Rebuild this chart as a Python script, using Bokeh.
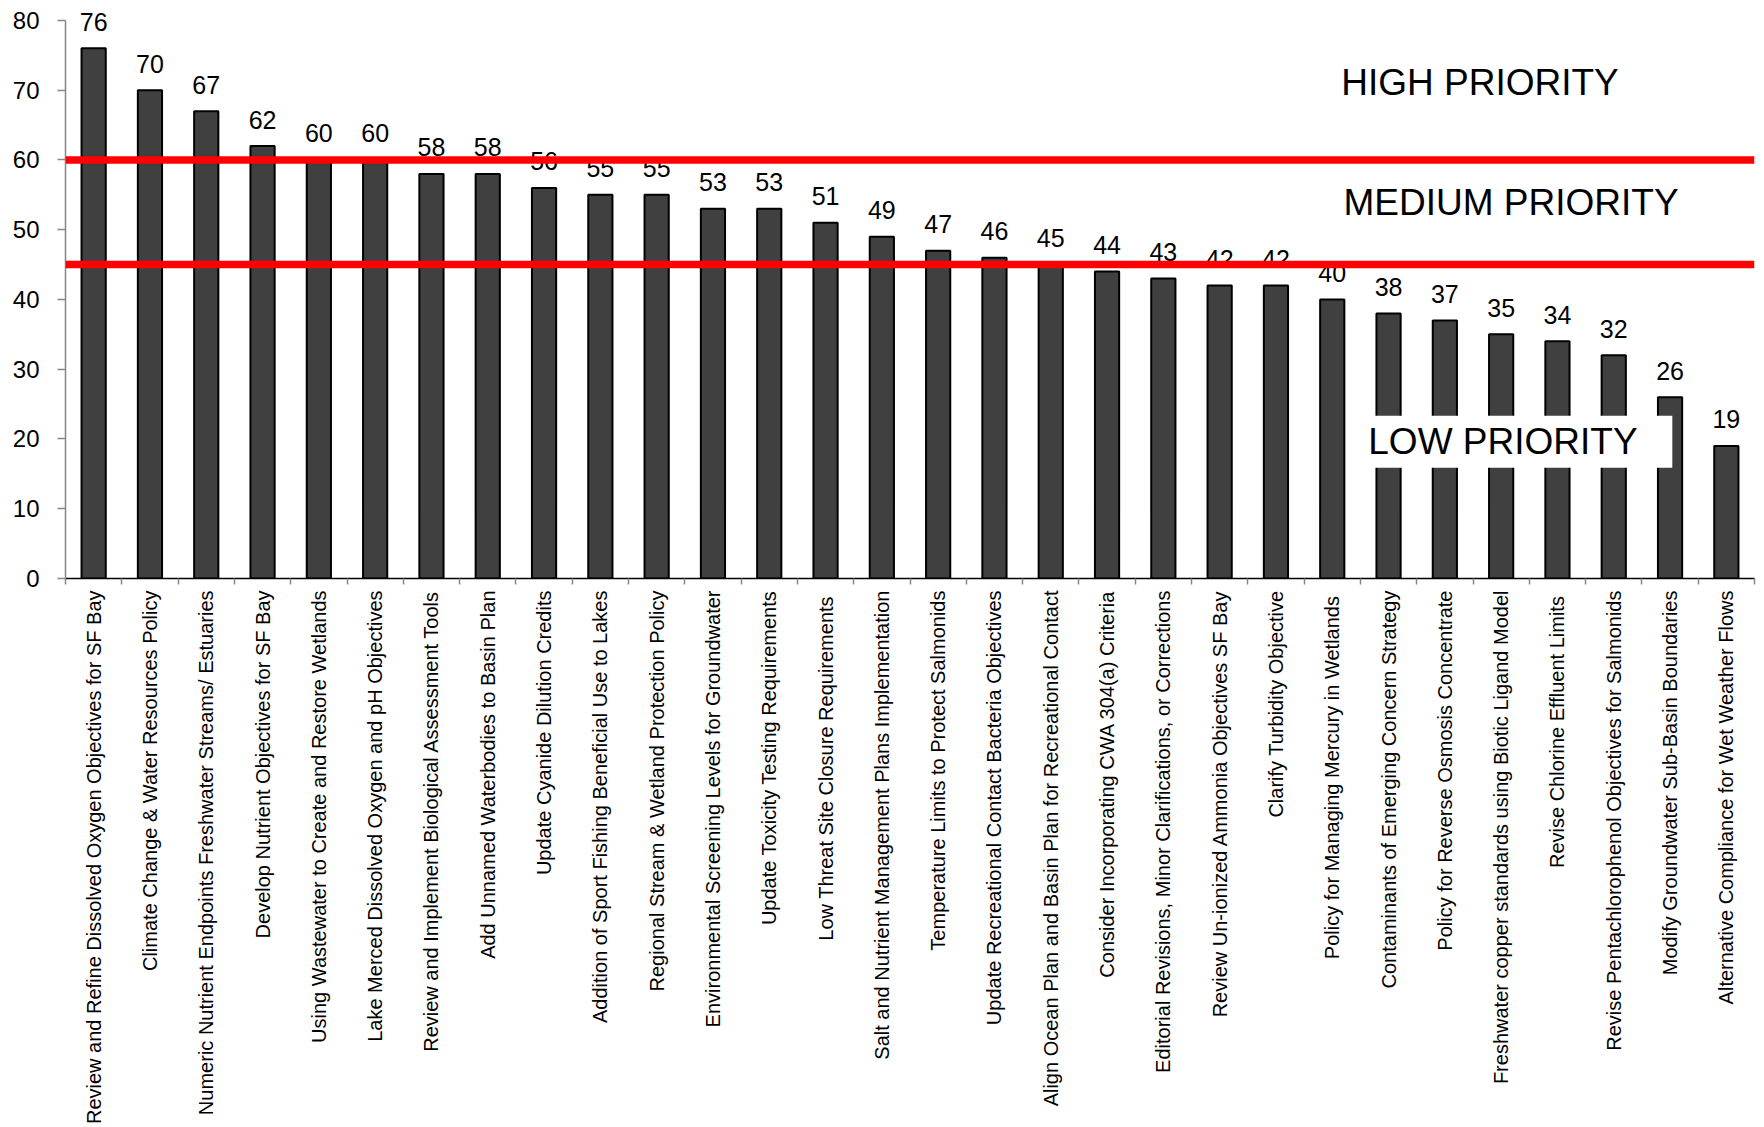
import numpy as np
from bokeh.plotting import figure
from bokeh.models import (Range1d, FixedTicker, CustomJSTickFormatter, Span,
                          Label, BoxAnnotation, ColumnDataSource)
from bokeh.core.properties import value
from bokeh.embed import file_html
from bokeh.resources import INLINE

categories = [
    "Review and Refine Dissolved Oxygen Objectives for SF Bay",
    "Climate Change & Water Resources Policy",
    "Numeric Nutrient Endpoints Freshwater Streams/ Estuaries",
    "Develop Nutrient Objectives for SF Bay",
    "Using Wastewater to Create and Restore Wetlands",
    "Lake Merced Dissolved Oxygen and pH Objectives",
    "Review and Implement Biological Assessment Tools",
    "Add Unnamed Waterbodies to Basin Plan",
    "Update Cyanide Dilution Credits",
    "Addition of Sport Fishing Beneficial Use to Lakes",
    "Regional Stream & Wetland Protection Policy",
    "Environmental Screening Levels for Groundwater",
    "Update Toxicity Testing Requirements",
    "Low Threat  Site Closure Requirements",
    "Salt and Nutrient Management Plans Implementation",
    "Temperature Limits to Protect Salmonids",
    "Update Recreational Contact Bacteria Objectives",
    "Align Ocean Plan and Basin Plan for Recreational Contact",
    "Consider Incorporating CWA 304(a) Criteria",
    "Editorial Revisions, Minor Clarifications, or Corrections",
    "Review Un-ionized Ammonia Objectives SF Bay",
    "Clarify Turbidity Objective",
    "Policy for Managing Mercury in  Wetlands",
    "Contaminants of Emerging Concern Strategy",
    "Policy for Reverse Osmosis Concentrate",
    "Freshwater copper standards using Biotic Ligand Model",
    "Revise Chlorine  Effluent Limits",
    "Revise Pentachlorophenol Objectives for Salmonids",
    "Modify Groundwater Sub-Basin Boundaries",
    "Alternative Compliance for Wet Weather Flows",
]
scores = [76, 70, 67, 62, 60, 60, 58, 58, 56, 55, 55, 53, 53, 51, 49, 47, 46,
          45, 44, 43, 42, 42, 40, 38, 37, 35, 34, 32, 26, 19]
y_ticks = [0, 10, 20, 30, 40, 50, 60, 70, 80]
thresholds = [60, 45]
priority_labels = ["HIGH PRIORITY", "MEDIUM PRIORITY", "LOW PRIORITY"]

FONT = "Liberation Sans"
n = len(categories)
centers = np.arange(n) + 0.5

# frame extends above the 80 tick so the top value label is not clipped
Y_MAX = 80
PX_PER_UNIT = 559 / Y_MAX
TOP_PAD = 20
y_end = Y_MAX + TOP_PAD / PX_PER_UNIT

src = ColumnDataSource(dict(x=centers, top=scores, label=[str(v) for v in scores]))

p = figure(width=1764, height=1127, output_backend="svg", toolbar_location=None,
           x_range=Range1d(0, n), y_range=Range1d(0, y_end),
           min_border_left=65, min_border_right=10, min_border_top=0,
           min_border_bottom=548)
p.outline_line_color = None
p.xgrid.visible = False
p.ygrid.visible = False
p.background_fill_color = "white"
p.border_fill_color = "white"

p.vbar(x="x", top="top", width=0.43, bottom=0, source=src,
       fill_color="#404040", line_color="black", line_width=2)

p.text(x="x", y="top", text="label", source=src, text_align="center",
       text_baseline="middle", y_offset=-26.5, text_font=value(FONT),
       text_font_size="25px", text_color="black")

# y axis
ya = p.yaxis[0]
ya.ticker = FixedTicker(ticks=y_ticks)
ya.bounds = (0, Y_MAX)
ya.minor_tick_line_color = None
ya.axis_line_color = "#868686"
ya.axis_line_width = 1.5
ya.major_tick_line_color = "#868686"
ya.major_tick_line_width = 1.5
ya.major_tick_out = 8
ya.major_tick_in = 0
ya.major_label_standoff = 18
ya.major_label_text_font = FONT
ya.major_label_text_font_size = "24px"
ya.major_label_text_color = "black"

# x axis
xa = p.xaxis[0]
xa.ticker = FixedTicker(ticks=list(centers), minor_ticks=list(range(n + 1)))
xa.formatter = CustomJSTickFormatter(args=dict(names=categories),
                                     code="const i = Math.floor(tick); return (i >= 0 && i < names.length) ? names[i] : '';")
xa.major_tick_line_color = None
xa.major_tick_out = 0
xa.major_tick_in = 0
xa.minor_tick_line_color = "#868686"
xa.minor_tick_line_width = 1.5
xa.minor_tick_out = 6
xa.minor_tick_in = 0
xa.axis_line_color = "black"
xa.axis_line_width = 1.5
xa.major_label_orientation = np.pi / 2
xa.major_label_standoff = 6
xa.major_label_text_font = FONT
xa.major_label_text_font_size = "20px"
xa.major_label_text_color = "black"

for t in thresholds:
    p.add_layout(Span(location=t, dimension="width", line_color="#ff0000",
                      line_width=7.5))

p.add_layout(BoxAnnotation(left=23.09, right=28.54, bottom=15.89, top=23.33,
                           fill_color="white", fill_alpha=1.0, line_color=None))

for txt, lx, ly in zip(priority_labels, [22.66, 22.70, 23.14], [71.06, 53.88, 19.61]):
    p.add_layout(Label(x=lx, y=ly, text=txt, text_font=FONT, text_font_size="37px",
                       text_baseline="middle", text_align="left",
                       text_color="black"))

open("out.html", "w").write(file_html(p, INLINE))
